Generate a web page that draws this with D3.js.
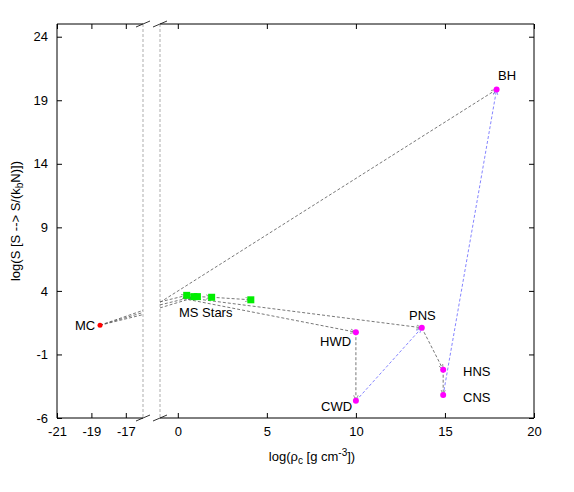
<!DOCTYPE html>
<html><head><meta charset="utf-8">
<script src="https://cdn.jsdelivr.net/npm/d3@7"></script>
<style>body{margin:0;background:#fff}text{font-family:"Liberation Sans",Arial,sans-serif;font-size:13px}</style>
</head><body><svg id="c" width="574" height="492"></svg>
<script>
const leftTicks=[-21,-19,-17];
const rightTicks=[0,5,10,15,20];
const yTicks=[-6,-1,4,9,14,19,24];
const mc={name:"MC",x:-18.5,y:1.3};
const msStars=[[0.5,3.65],[0.9,3.55],[1.1,3.55],[1.9,3.5],[4.1,3.3]];
const remnants=[{name:"BH",x:17.9,y:19.85},{name:"PNS",x:13.7,y:1.1},{name:"HWD",x:10,y:0.75},{name:"CWD",x:10,y:-4.65},{name:"HNS",x:14.9,y:-2.2},{name:"CNS",x:14.9,y:-4.2}];
const blackArrows=[["MS","BH"],["MS","PNS"],["MS","HWD"],["HWD","CWD"],["PNS","HNS"],["HNS","CNS"]];
const blueArrows=[["CWD","PNS"],["CNS","BH"]];

const svg=d3.select("#c");
const xl=d3.scaleLinear().domain([-21,-16]).range([57,143]);
const xr=d3.scaleLinear().domain([-1,20]).range([160,534]);
const y=d3.scaleLinear().domain([-6,25]).range([418,24]);
const fmt=d=>String(d);
const defs=svg.append("defs");
function mk(id,c){defs.append("marker").attr("id",id).attr("viewBox","0 0 10 10").attr("refX",10).attr("refY",5).attr("markerWidth",7).attr("markerHeight",7).attr("orient","auto")
 .append("path").attr("d","M0,1L10,5L0,9").attr("fill","none").attr("stroke",c).attr("stroke-width",1);}
mk("ab","#555");mk("bl","#55f");

const fr=svg.append("g").attr("stroke","#000").attr("fill","none");
fr.append("path").attr("d",`M${xl(-16)},${y(25)}H57V418H${xl(-16)}`);
fr.append("path").attr("d",`M160,${y(25)}H534V418H160`);
[[xl(-16),418],[xl(-16),24],[160,418],[160,24]].forEach(([px,py])=>fr.append("line").attr("x1",px-7).attr("y1",py+3).attr("x2",px+7).attr("y2",py-3).attr("stroke-width",0.8));
[xl(-16),160].forEach(px=>svg.append("line").attr("x1",px).attr("x2",px).attr("y1",24).attr("y2",418).attr("stroke","#777").attr("stroke-dasharray","3,2").attr("stroke-width",0.6));

svg.append("g").attr("transform","translate(0,418)").call(d3.axisBottom(xl).tickValues(leftTicks).tickFormat(fmt).tickSize(-5).tickPadding(9).tickSizeOuter(0)).call(g=>g.select(".domain").remove());
svg.append("g").attr("transform","translate(0,418)").call(d3.axisBottom(xr).tickValues(rightTicks).tickFormat(fmt).tickSize(-5).tickPadding(9).tickSizeOuter(0)).call(g=>g.select(".domain").remove());
svg.append("g").attr("transform","translate(0,24)").call(d3.axisTop(xl).tickValues(leftTicks).tickSize(-5).tickFormat("")).call(g=>g.select(".domain").remove());
svg.append("g").attr("transform","translate(0,24)").call(d3.axisTop(xr).tickValues(rightTicks).tickSize(-5).tickFormat("")).call(g=>g.select(".domain").remove());
svg.append("g").attr("transform","translate(57,0)").call(d3.axisLeft(y).tickValues(yTicks).tickFormat(fmt).tickSize(-5).tickPadding(9)).call(g=>g.select(".domain").remove());
svg.append("g").attr("transform","translate(534,0)").call(d3.axisRight(y).tickValues(yTicks).tickSize(-5).tickFormat("")).call(g=>g.select(".domain").remove());
svg.selectAll(".tick text").attr("font-size",14).attr("font-family","Liberation Sans,Arial").attr("fill","#000");

const P={};remnants.forEach(r=>P[r.name]=[xr(r.x),y(r.y)]);
function arrow(a,b,cls,col,dash){svg.append("line").attr("x1",a[0]).attr("y1",a[1]).attr("x2",b[0]).attr("y2",b[1]).attr("stroke",col).attr("stroke-width",0.8).attr("stroke-dasharray",dash).attr("marker-end",`url(#${cls})`);}
const mcp=[xl(mc.x),y(mc.y)];
[-3,0,3].forEach(d=>{
 svg.append("line").attr("x1",mcp[0]).attr("y1",mcp[1]).attr("x2",xl(-16)).attr("y2",y(2.3)+d*0.7).attr("stroke","#555").attr("stroke-width",0.8).attr("stroke-dasharray","3,2");
 const t=msStars[d>0?2:d<0?0:1];
 arrow([160,y(2.9)+d],[xr(t[0]),y(t[1])],"ab","#555","3,2");
});
msStars.slice(1).forEach((s,i)=>arrow([xr(msStars[i][0]),y(msStars[i][1])],[xr(s[0]),y(s[1])],"ab","#555","3,2"));
arrow([160,y(3.1)],P.BH,"ab","#555","3,2");
arrow([xr(0.3),y(3.5)],P.PNS,"ab","#555","3,2");
arrow([xr(0.3),y(3.4)],P.HWD,"ab","#555","3,2");
blackArrows.filter(a=>a[0]!=="MS").forEach(([a,b])=>arrow(P[a],P[b],"ab","#555","3,2"));
blueArrows.forEach(([a,b])=>arrow(P[a],P[b],"bl","#66f","3,2"));

svg.append("circle").attr("cx",mcp[0]).attr("cy",mcp[1]).attr("r",2.5).attr("fill","red");
svg.selectAll(".ms").data(msStars).join("rect").attr("x",d=>xr(d[0])-3.5).attr("y",d=>y(d[1])-3.5).attr("width",7).attr("height",7).attr("fill","#0e0");
svg.selectAll(".rm").data(remnants).join("circle").attr("cx",d=>xr(d.x)).attr("cy",d=>y(d.y)).attr("r",3).attr("fill","#f0f");

const labels=[["MC",75,330],["MS Stars",179,317],["BH",498,80],["PNS",409,320],["HWD",320,346],["CWD",321,411],["HNS",463,376],["CNS",463,402]];
labels.forEach(([t,lx,ly])=>svg.append("text").attr("x",lx).attr("y",ly).text(t));
svg.append("text").attr("x",312).attr("y",461).attr("text-anchor","middle").attr("font-size",14).html('log(ρ<tspan font-size="10" dy="3">c</tspan><tspan dy="-3"> [g cm</tspan><tspan font-size="10" dy="-5">-3</tspan><tspan dy="5">])</tspan>');
svg.append("text").attr("transform","translate(20,221) rotate(-90)").attr("text-anchor","middle").attr("font-size",14).html('log(S [S --&gt; S/(k<tspan font-size="10" dy="3">b</tspan><tspan dy="-3">N)])</tspan>');
</script></body></html>
